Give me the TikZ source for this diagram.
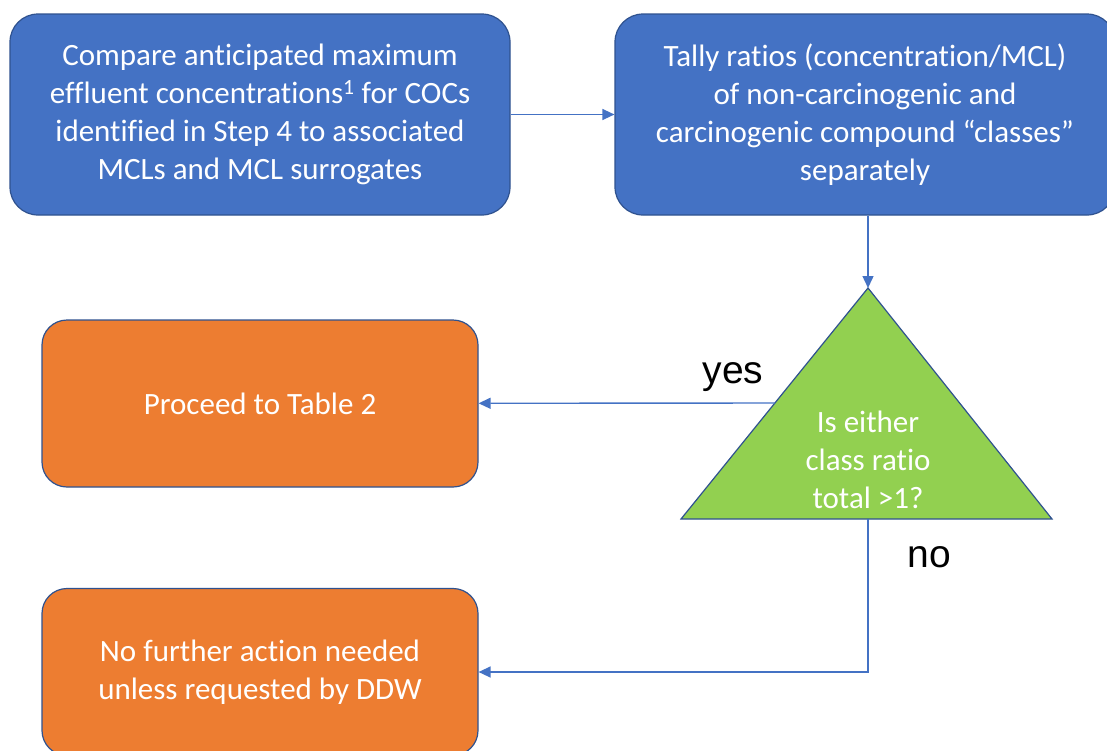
\documentclass[tikz,border=0pt]{standalone}
\usepackage{fontspec}
\setmainfont{Carlito}[Ligatures={NoCommon}]
\newfontfamily\labelfont{Liberation Sans}
\usetikzlibrary{arrows.meta}
\definecolor{stepblue}{HTML}{4472C4}
\definecolor{edgeblue}{HTML}{2F528F}
\definecolor{outorange}{HTML}{ED7D31}
\definecolor{askgreen}{HTML}{92D050}
\begin{document}
\begin{tikzpicture}[x=1pt, y=-1pt,
  stepbox/.style={rectangle, rounded corners=28pt, draw=edgeblue, line width=1.2pt,
                  fill=stepblue, text=white, align=center, inner sep=0pt,
                  minimum width=500pt, minimum height=201pt,
                  font=\fontsize{31}{38}\selectfont},
  endbox/.style={stepbox, fill=outorange, rounded corners=25pt,
                 minimum width=436pt, minimum height=167pt},
  asktext/.style={text=white, align=center, inner sep=0pt,
                  font=\fontsize{31}{38}\selectfont},
  ans/.style={font=\labelfont\fontsize{39}{45}\selectfont},
  lk/.style={-{Triangle[length=12pt, width=11pt]}, stepblue, line width=1.4pt}]
\useasboundingbox (0,0) rectangle (1107,750);

%% top row: compare, then tally
\node[stepbox] (compare) at (260,114.5)
  {Compare anticipated maximum\\effluent concentrations\textsuperscript{1} for COCs\\identified in Step 4 to associated\\MCLs and MCL surrogates};
\node[stepbox] (tally) at (865,114.5)
  {Tally ratios (concentration/MCL)\\of non-carcinogenic and\\carcinogenic compound “classes”\\separately};
\draw[lk] (compare) -- (tally);

%% decision triangle
\coordinate (apex) at (868,288);
\coordinate (lbase) at (681,519);
\coordinate (rbase) at (1052,519);
\coordinate (mbase) at (868,519);
\coordinate (yesout) at (775,403);
\draw[edgeblue, line width=1.2pt, fill=askgreen] (apex) -- (rbase) -- (lbase) -- cycle;
\node[asktext] (ask) at (868,460) {Is either\\class ratio\\total >1?};
\draw[lk] (tally.south -| apex) -- (apex);

%% outcomes
\node[endbox] (proceed) at (260,403.5) {Proceed to Table 2};
\node[endbox] (nothing) at (260,672) {No further action needed\\unless requested by DDW};
\draw[lk] (yesout) -- (proceed);
\draw[lk] (mbase) |- (nothing);
\node[ans] (yes) at (733,377) {yes};
\node[ans] (no) at (929,557) {no};
\end{tikzpicture}
\end{document}
